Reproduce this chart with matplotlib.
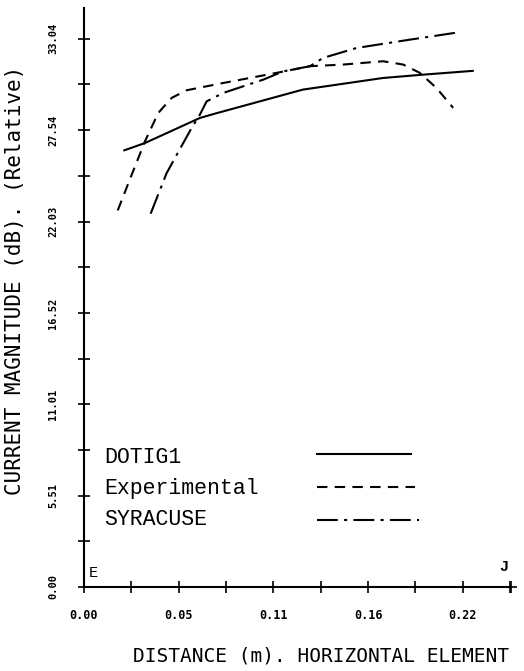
import numpy as np
import matplotlib
matplotlib.use("Agg")
import matplotlib.pyplot as plt

dotig_x = [0.0234, 0.0354, 0.0673, 0.0760, 0.1271, 0.1736, 0.1968, 0.2258]
dotig_y = [26.32, 26.76, 28.27, 28.53, 29.98, 30.68, 30.88, 31.11]

exp_x = [0.0196, 0.0277, 0.0354, 0.0431, 0.0509, 0.0596, 0.0809, 0.1119,
         0.1312, 0.1505, 0.1737, 0.1854, 0.1950, 0.2047, 0.2144]
exp_y = [22.70, 24.85, 26.86, 28.57, 29.48, 29.94, 30.38, 30.99,
         31.39, 31.49, 31.69, 31.49, 30.99, 30.08, 28.88]

syr_x = [0.0387, 0.0480, 0.0625, 0.0673, 0.0712, 0.0809, 0.1041, 0.1157,
         0.1312, 0.1389, 0.1583, 0.1892, 0.2154]
syr_y = [22.50, 24.95, 27.67, 28.47, 29.27, 29.78, 30.58, 31.08,
         31.39, 31.89, 32.49, 32.99, 33.40]

x_ticks = [0.0, 0.055, 0.11, 0.165, 0.22]
x_labels = ["0.00", "0.05", "0.11", "0.16", "0.22"]
y_ticks = [0.0, 5.507, 11.013, 16.52, 22.027, 27.533, 33.04]
y_labels = ["0.00", "5.51", "11.01", "16.52", "22.03", "27.54", "33.04"]

names = ["DOTIG1", "Experimental", "SYRACUSE"]
styles = ["-", (0, (5, 3.5)), (0, (10, 3, 1.5, 3))]

fig = plt.figure(figsize=(5.24, 6.71), dpi=100)
ax = fig.add_axes([0.1603, 0.1252, 0.8149, 0.8629])

ax.plot(dotig_x, dotig_y, color="black", lw=1.5, linestyle=styles[0])
ax.plot(exp_x, exp_y, color="black", lw=1.5, linestyle=styles[1])
ax.plot(syr_x, syr_y, color="black", lw=1.5, linestyle=styles[2])

ax.set_xlim(0, 0.248)
ax.set_ylim(0, 34.9)
ax.spines["top"].set_visible(False)
ax.spines["right"].set_visible(False)
ax.spines["left"].set_linewidth(1.5)
ax.spines["bottom"].set_linewidth(1.5)

ax.set_xticks(x_ticks)
ax.set_xticklabels(x_labels, fontfamily="DejaVu Sans Mono", fontweight="bold", fontsize=8.5)
ax.set_xticks(np.arange(0.0275, 0.248, 0.055), minor=True)
ax.set_yticks(y_ticks)
ax.set_yticklabels(y_labels, fontfamily="DejaVu Sans Mono", fontweight="bold", fontsize=7.5,
                   rotation=90, va="center")
ax.set_yticks(np.arange(2.7535, 34.9, 5.507), minor=True)
ax.tick_params(which="both", direction="inout", length=9, width=1.2)
ax.tick_params(axis="x", pad=11)
ax.tick_params(axis="y", pad=14)

ax.set_xlabel("DISTANCE (m). HORIZONTAL ELEMENT", fontfamily="DejaVu Sans Mono", fontsize=14)
ax.set_ylabel("CURRENT MAGNITUDE (dB). (Relative)", fontfamily="DejaVu Sans Mono", fontsize=15)
ax.xaxis.set_label_coords(0.555, -0.102)
ax.yaxis.set_label_coords(-0.137, 0.53)

# axis end markers
ax.text(0.003, 0.4, "E", fontfamily="Liberation Mono", fontsize=11, va="bottom", ha="left")
ax.text(0.2465, 0.8, "J", fontfamily="Liberation Mono", fontweight="bold", fontsize=11,
        va="bottom", ha="right")
ax.plot([0.248], [0], marker="+", color="black", markersize=9, mew=1.2, clip_on=False)

# hand-drawn style legend
for i, (name, ls) in enumerate(zip(names, styles)):
    yy = 0.2245 - i * 0.0544
    ax.text(0.048, yy, name, transform=ax.transAxes, fontfamily="Liberation Mono",
            fontsize=15.5, va="center", ha="left")
    ax.plot([0.546, 0.765 + 0.01 * i], [yy + 0.006 - 0.003 * i] * 2, transform=ax.transAxes,
            color="black", lw=1.5, linestyle=ls)

fig.savefig("out.png", dpi=100)
